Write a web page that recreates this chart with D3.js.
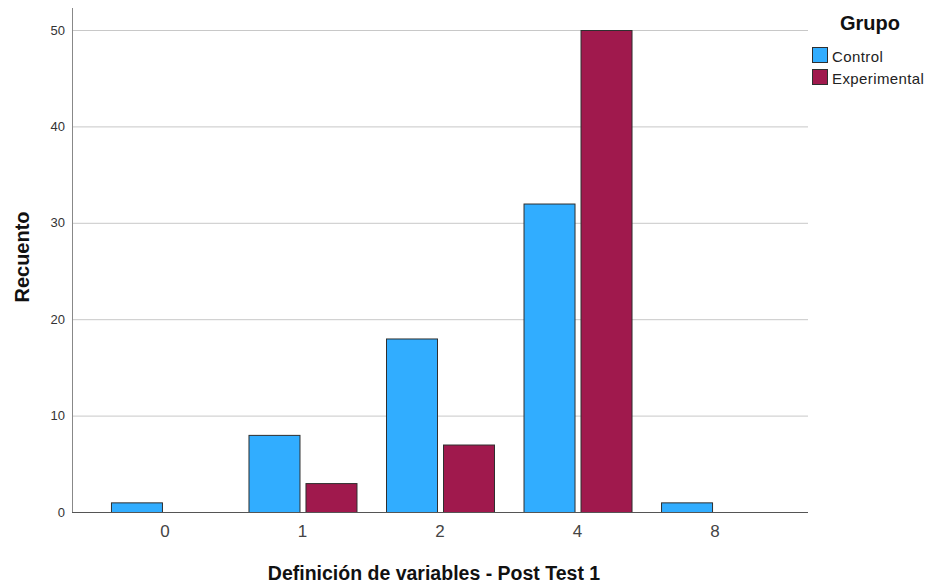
<!DOCTYPE html>
<html><head><meta charset="utf-8">
<script src="https://cdn.jsdelivr.net/npm/d3@7"></script>
<style>body{margin:0;background:#fff;} svg{display:block;font-family:Arial,"Liberation Sans",sans-serif;}</style>
</head><body>
<svg id="c" width="931" height="584"></svg>
<script>
const categories = ["0","1","2","4","8"];
const series = ["Control","Experimental"];
const controlValues = [1,8,18,32,1];
const experimentalValues = [0,3,7,50,0];
const yTicks = [0,10,20,30,40,50];
const colors = ["#31adff","#a0194d"];

const svg = d3.select("#c");
const L=72, R=808, T=8, B=512;
const x = d3.scaleBand().domain(categories).range([L,R]).paddingInner(0).paddingOuter(0.176);
const y = d3.scaleLinear().domain([0,50]).range([B,30]);
const barW = 51, gap = 6;

// gridlines
svg.append("g").selectAll("line").data(yTicks.filter(d=>d>0)).join("line")
  .attr("x1",L).attr("x2",R).attr("y1",d=>y(d)+0.5).attr("y2",d=>y(d)+0.5)
  .attr("stroke","#c8c8c8").attr("stroke-width",1);

// y axis
const yAxis = svg.append("g").attr("transform",`translate(${L},0)`)
  .call(d3.axisLeft(y).tickValues(yTicks).tickSize(0).tickPadding(7));
yAxis.select(".domain").remove();
yAxis.selectAll("text").attr("font-size",13).attr("fill","#333").attr("font-family","Arial,'Liberation Sans',sans-serif");
svg.append("line").attr("x1",L+0.5).attr("x2",L+0.5).attr("y1",T).attr("y2",B).attr("stroke","#888");

// bars
const data = [controlValues, experimentalValues];
series.forEach((s,i)=>{
  svg.append("g").selectAll("rect").data(categories.map((c,j)=>({c,v:data[i][j]})).filter(d=>d.v>0)).join("rect")
    .attr("x",d=>x(d.c)+x.bandwidth()/2 + (i===0 ? -gap/2-barW : gap/2)+0.5)
    .attr("y",d=>y(d.v)+0.5)
    .attr("width",barW).attr("height",d=>y(0)-y(d.v))
    .attr("fill",colors[i]).attr("stroke","#2f2f2f").attr("stroke-width",1);
});

// x axis
const xAxis = svg.append("g").attr("transform",`translate(0,${B})`)
  .call(d3.axisBottom(x).tickSize(0).tickPadding(13));
xAxis.select(".domain").remove();
xAxis.selectAll("text").attr("font-size",17).attr("fill","#444").attr("font-family","Arial,'Liberation Sans',sans-serif");
svg.append("line").attr("x1",L).attr("x2",R).attr("y1",B+0.5).attr("y2",B+0.5).attr("stroke","#555");

// axis titles
svg.append("text").attr("x",434).attr("y",580).attr("text-anchor","middle")
  .attr("font-size",19.5).attr("font-weight","bold").attr("fill","#111").text("Definición de variables - Post Test 1");
svg.append("text").attr("transform","translate(29,257) rotate(-90)").attr("text-anchor","middle")
  .attr("font-size",20).attr("font-weight","bold").attr("fill","#111").text("Recuento");

// legend
svg.append("text").attr("x",840).attr("y",30).attr("font-size",20).attr("font-weight","bold").attr("fill","#111").text("Grupo");
series.forEach((s,i)=>{
  const yy = 47 + i*22;
  svg.append("rect").attr("x",812.5).attr("y",yy+0.5).attr("width",15).attr("height",15)
    .attr("fill",colors[i]).attr("stroke","#2f2f2f");
  svg.append("text").attr("x",832).attr("y",yy+15).attr("font-size",15).attr("letter-spacing",0.4).attr("fill","#222").text(s);
});
</script>
</body></html>
